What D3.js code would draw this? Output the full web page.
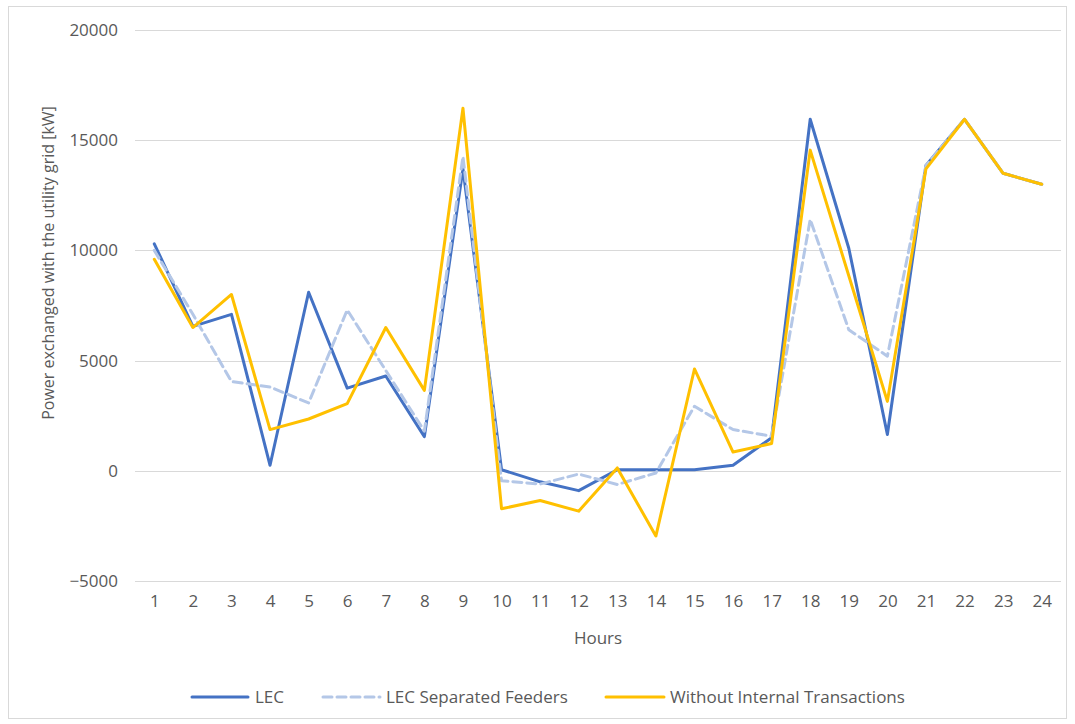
<!DOCTYPE html>
<html>
<head>
<meta charset="utf-8">
<script src="https://cdn.jsdelivr.net/npm/d3@7"></script>
<style>
  html, body { margin: 0; padding: 0; background: #ffffff; }
  svg text { font-family: "Open Sans", "Noto Sans", sans-serif; fill: #595959; }
</style>
</head>
<body>
<svg id="chart" width="1075" height="724"></svg>
<script>
// Hourly power exchanged with the utility grid [kW]
const hours = ["1","2","3","4","5","6","7","8","9","10","11","12","13","14","15","16","17","18","19","20","21","22","23","24"];
const lec = [10300, 6550, 7100, 250, 8100, 3750, 4300, 1550, 13700, 50, -500, -900, 50, 50, 50, 250, 1500, 15950, 10100, 1650, 13850, 15950, 13500, 13000];
const lecSeparated = [10000, 7100, 4050, 3800, 3080, 7300, 4550, 1800, 14250, -450, -600, -150, -620, -100, 2930, 1870, 1570, 11400, 6400, 5200, 13850, 15950, 13500, 13000];
const withoutInternal = [9600, 6500, 8000, 1870, 2350, 3050, 6500, 3650, 16450, -1720, -1350, -1830, 130, -2960, 4620, 850, 1240, 14550, 8850, 3150, 13700, 15950, 13500, 13000];
const yTicks = [-5000, 0, 5000, 10000, 15000, 20000];

const seriesNames = ["LEC", "LEC Separated Feeders", "Without Internal Transactions"];
const seriesValues = [lec, lecSeparated, withoutInternal];
const seriesStyle = [
  { color: "#4472c4", dash: null },
  { color: "#b4c7e7", dash: "9,5" },
  { color: "#ffc000", dash: null }
];

const svg = d3.select("#chart");

// outer chart border
svg.append("rect")
  .attr("x", 8.5).attr("y", 6.5)
  .attr("width", 1058).attr("height", 712)
  .attr("fill", "none").attr("stroke", "#d9d9d9");

const plot = { left: 135, right: 1061, top: 30, bottom: 581 };

const x = d3.scalePoint().domain(hours).range([plot.left, plot.right]).padding(0.5);
const y = d3.scaleLinear().domain([-5000, 20000]).range([plot.bottom, plot.top]);

// horizontal gridlines
svg.append("g")
  .selectAll("line")
  .data(yTicks)
  .join("line")
  .attr("x1", plot.left).attr("x2", plot.right)
  .attr("y1", d => Math.round(y(d)) + 0.5).attr("y2", d => Math.round(y(d)) + 0.5)
  .attr("stroke", "#d9d9d9").attr("stroke-width", 1);

// y axis labels
const yAxis = d3.axisLeft(y).tickValues(yTicks).tickSize(0).tickPadding(0).tickFormat(d3.format("d"));
svg.append("g")
  .attr("transform", "translate(118,0)")
  .call(yAxis)
  .call(g => g.select(".domain").remove())
  .call(g => g.selectAll("text").attr("font-size", 17).style("font-family", null).attr("fill", null));

// x axis labels
const xAxis = d3.axisBottom(x).tickSize(0).tickPadding(0);
svg.append("g")
  .attr("transform", `translate(0,${plot.bottom + 14})`)
  .call(xAxis)
  .call(g => g.select(".domain").remove())
  .call(g => g.selectAll("text").attr("font-size", 17).attr("dy", "0.71em").style("font-family", null).attr("fill", null));

// axis titles
svg.append("text")
  .attr("x", (plot.left + plot.right) / 2)
  .attr("y", 644)
  .attr("text-anchor", "middle")
  .attr("font-size", 17)
  .text("Hours");

svg.append("text")
  .attr("transform", "translate(54,263) rotate(-90)")
  .attr("text-anchor", "middle")
  .attr("font-size", 16)
  .text("Power exchanged with the utility grid [kW]");

// series lines
const line = d3.line()
  .x((d, i) => x(hours[i]))
  .y(d => y(d));

seriesValues.forEach((vals, k) => {
  svg.append("path")
    .datum(vals)
    .attr("d", line)
    .attr("fill", "none")
    .attr("stroke", seriesStyle[k].color)
    .attr("stroke-width", 3)
    .attr("stroke-linejoin", "round")
    .attr("stroke-linecap", "round")
    .attr("stroke-dasharray", seriesStyle[k].dash);
});

// legend
const legendItems = [
  { x0: 192, x1: 248, tx: 255 },
  { x0: 323, x1: 380, tx: 386 },
  { x0: 606, x1: 664, tx: 670 }
];
const legendY = 697;
const lg = svg.append("g");
legendItems.forEach((it, k) => {
  lg.append("line")
    .attr("x1", it.x0).attr("x2", it.x1)
    .attr("y1", legendY).attr("y2", legendY)
    .attr("stroke", seriesStyle[k].color)
    .attr("stroke-width", 3)
    .attr("stroke-linecap", "round")
    .attr("stroke-dasharray", seriesStyle[k].dash);
  lg.append("text")
    .attr("x", it.tx).attr("y", legendY)
    .attr("dy", "0.35em")
    .attr("font-size", 17)
    .text(seriesNames[k]);
});
</script>
</body>
</html>
